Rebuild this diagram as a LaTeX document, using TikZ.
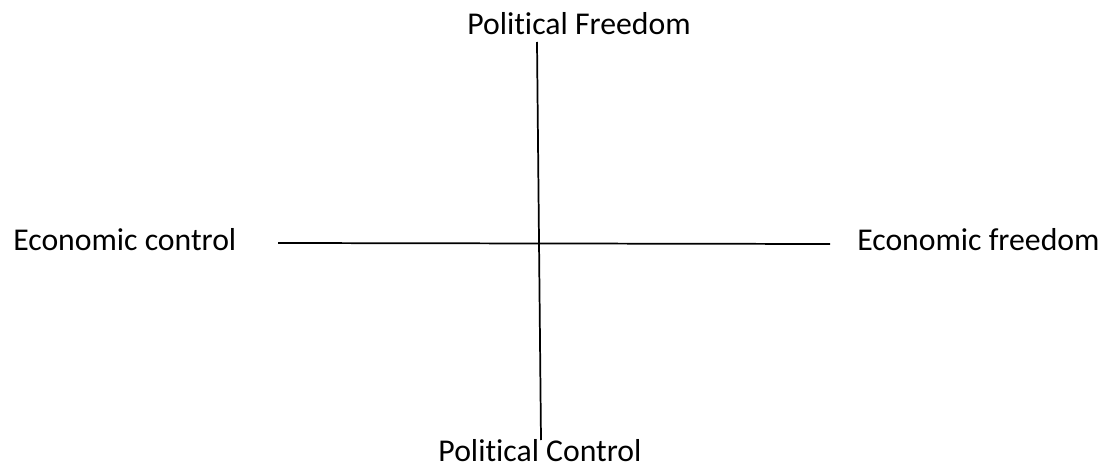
\documentclass[tikz,border=0pt]{standalone}
\usepackage{fontspec}
\setmainfont[Ligatures={NoCommon,NoRare,NoContextual},RawFeature={-liga;-clig;-dlig}]{Carlito}
\begin{document}
\begin{tikzpicture}[x=0.75pt,y=-0.75pt,
  lab/.style={inner sep=0pt,font=\fontsize{23.8}{28}\selectfont},
  axis/.style={line width=1.3pt,black}]
\useasboundingbox (0,0) rectangle (1104,467);
\node[lab,anchor=base] (pf) at (579,35) {Polit\kern0pt ical Freedom};
\node[lab,anchor=base] (pc) at (540,461) {Polit\kern0pt ical Control};
\node[lab,anchor=base west] (ec) at (13,250) {Economic control};
\node[lab,anchor=base west] (ef) at (857,250) {Economic freedom};
\coordinate (vt) at (537,42);
\coordinate (vb) at (541,440);
\coordinate (hl) at (278,243);
\coordinate (hr) at (830,244);
\draw[axis] (vt) -- (vb);
\draw[axis] (hl) -- (hr);
\end{tikzpicture}
\end{document}
